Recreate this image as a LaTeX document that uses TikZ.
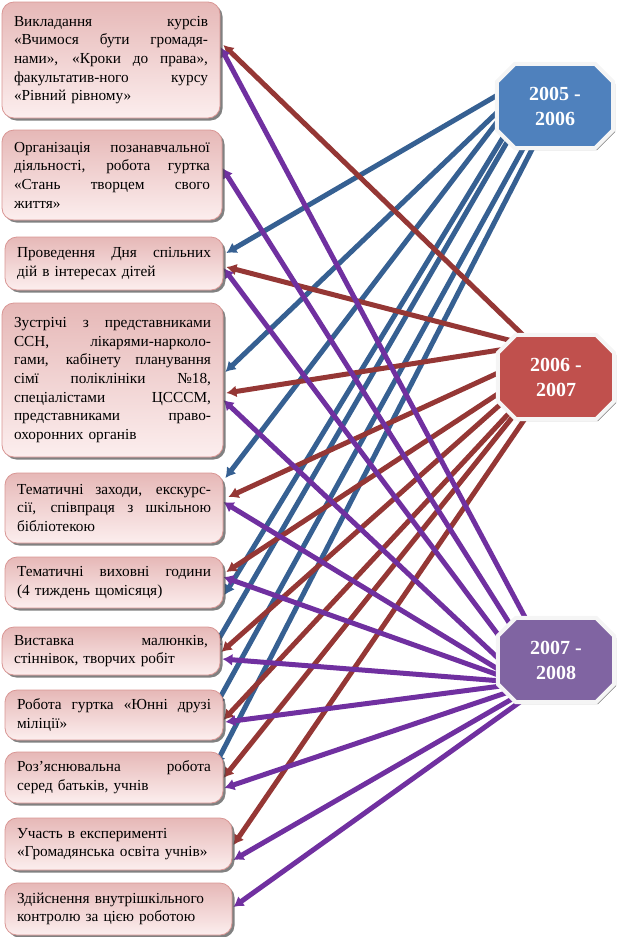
\documentclass[tikz,border=0pt]{standalone}
\usepackage{fontspec}
\setmainfont{Liberation Serif}
\usetikzlibrary{arrows.meta,shapes.geometric,shadows,backgrounds}
\definecolor{boxtop}{RGB}{230,184,183}
\definecolor{boxbot}{RGB}{252,238,238}
\definecolor{boxline}{RGB}{217,150,148}
\definecolor{yblue}{RGB}{79,129,189}
\definecolor{yred}{RGB}{192,80,77}
\definecolor{yviolet}{RGB}{128,100,162}
\definecolor{lblue}{RGB}{54,96,146}
\definecolor{lred}{RGB}{149,55,53}
\definecolor{lviolet}{RGB}{112,48,160}
\newcommand{\actw}{194pt}
\newcommand{\jline}[1]{\hbox to\actw{\spaceskip=.25em plus 1fil\relax#1}}
\newcommand{\eline}[1]{\hbox to\actw{#1\hfil}}
\tikzset{
  actbox/.style={rounded corners=12pt, draw=boxline, line width=0.8pt,
    top color=boxtop, bottom color=boxbot,
    drop shadow={shadow xshift=2.5pt,shadow yshift=-2.5pt,fill=black!70,opacity=0.7},
    inner xsep=12pt, inner ysep=0pt, font=\fontsize{15.3}{18.7}\selectfont,
    text width=#1, execute at begin node={\renewcommand{\actw}{#1}}},
  yearbox/.style={ellipse, minimum width=116pt, minimum height=84pt,
    inner sep=0pt, text=white, align=center,
    font=\bfseries\fontsize{20}{25}\selectfont},
  octrim/.style={draw=gray!8, line width=4pt,
    drop shadow={shadow xshift=2pt,shadow yshift=-2pt,fill=gray,opacity=1}},
  link/.style={line width=5pt, -{Latex[length=10pt,width=12pt]}},
}
\begin{document}
\begin{tikzpicture}[x=1pt,y=-1pt]
\useasboundingbox (0,0) rectangle (620,937);
% activities
\node[actbox=194pt, minimum height=116pt] (A) at (111,60) {%
  \jline{Викладання курсів}
  \jline{«Вчимося бути громадя-}
  \jline{нами», «Кроки до права»,}
  \jline{факультатив-ного курсу}
  \eline{«Рівний рівному»}};
\node[actbox=196pt, minimum height=90pt] (B) at (112,175) {%
  \jline{Організація позанавчальної}
  \jline{діяльності, робота гуртка}
  \jline{«Стань творцем свого}
  \eline{життя»}};
\node[actbox=194pt, minimum height=53pt] (C) at (114,263.5) {%
  \jline{Проведення Дня спільних}
  \eline{дій в інтересах дітей}};
\node[actbox=197pt, minimum height=154pt] (D) at (112.5,380) {%
  \jline{Зустрічі з представниками}
  \jline{ССН, лікарями-нарколо-}
  \jline{гами, кабінету планування}
  \jline{сімї поліклініки №18,}
  \jline{спеціалістами ЦСССМ,}
  \jline{представниками право-}
  \eline{охоронних органів}};
\node[actbox=194pt, minimum height=70pt] (E) at (114,508) {%
  \jline{Тематичні заходи, екскурс-}
  \jline{сії, співпраця з шкільною}
  \eline{бібліотекою}};
\node[actbox=194pt, minimum height=51pt] (F) at (114,582.5) {%
  \jline{Тематичні виховні години}
  \eline{(4 тиждень щомісяця)}};
\node[actbox=194pt, minimum height=48pt] (G) at (111,651) {%
  \jline{Виставка малюнків,}
  \eline{стіннівок, творчих робіт}};
\node[actbox=194pt, minimum height=50pt] (H) at (114,715) {%
  \jline{Робота гуртка «Юнні друзі}
  \eline{міліції»}};
\node[actbox=194pt, minimum height=51pt] (I) at (114,777.5) {%
  \jline{Роз’яснювальна робота}
  \eline{серед батьків, учнів}};
\node[actbox=203pt, minimum height=52pt] (J) at (118.5,844) {%
  \eline{Участь в експерименті}
  \eline{«Громадянська освіта учнів»}};
\node[actbox=203pt, minimum height=52pt] (K) at (118.5,909) {%
  \eline{Здійснення внутрішкільного}
  \eline{контролю за цією роботою}};
% years
\node[yearbox] (y05) at (555,106) {2005 -\\2006};
\node[yearbox] (y06) at (556,377) {2006 -\\2007};
\node[yearbox] (y07) at (556,660) {2007 -\\2008};
\begin{scope}[on background layer]
% 2005-2006
\draw[link,lblue] (y05.168) -- ([xshift=3pt,yshift=10.5pt]C.east);
\draw[link,lblue] (y05.186) -- ([xshift=2pt,yshift=8pt]D.east);
\draw[link,lblue] (y05.193) -- ([xshift=2pt,yshift=30pt]E.east);
\draw[link,lblue] (y05.207) -- ([xshift=1pt,yshift=-12.5pt]F.east);
\draw[link,lblue] (y05.213) -- ([xshift=-8pt,yshift=1pt]G.east);
\draw[link,lblue] (y05.232) -- ([xshift=-8pt,yshift=9pt]H.east);
\draw[link,lblue] (y05.242) -- ([xshift=-8pt,yshift=12.5pt]I.east);
% 2006-2007
\draw[link,lred] (y06.127) -- ([xshift=3pt,yshift=15pt]A.east);
\draw[link,lred] (y06.136) -- ([xshift=3pt,yshift=-3.5pt]C.east);
\draw[link,lred] (y06.145) -- ([xshift=3pt,yshift=-13pt]D.east);
\draw[link,lred] (y06.176) -- ([xshift=5pt,yshift=11pt]E.east);
\draw[link,lred] (y06.195) -- ([xshift=3pt,yshift=10.5pt]F.east);
\draw[link,lred] (y06.204) -- ([xshift=1pt,yshift=-1pt]G.east);
\draw[link,lred] (y06.216) -- ([xshift=0pt,yshift=-5pt]H.east);
\draw[link,lred] (y06.221) -- ([xshift=0pt,yshift=-0.5pt]I.east);
\draw[link,lred] (y06.233) -- ([xshift=1pt,yshift=-1pt]J.east);
% 2007-2008
\draw[link,lviolet] (y07.127) -- ([xshift=0pt,yshift=13pt]A.east);
\draw[link,lviolet] (y07.145) -- ([xshift=0pt,yshift=7pt]B.east);
\draw[link,lviolet] (y07.161) -- ([xshift=0pt,yshift=-4.5pt]C.east);
\draw[link,lviolet] (y07.178) -- ([xshift=0pt,yshift=-20pt]D.east);
\draw[link,lviolet] (y07.190) -- ([xshift=0pt,yshift=6pt]E.east);
\draw[link,lviolet] (y07.197) -- ([xshift=0pt,yshift=5.5pt]F.east);
\draw[link,lviolet] (y07.203) -- ([xshift=2pt,yshift=-8pt]G.east);
\draw[link,lviolet] (y07.208) -- ([xshift=2pt,yshift=-7pt]H.east);
\draw[link,lviolet] (y07.216) -- ([xshift=1pt,yshift=-10.5pt]I.east);
\draw[link,lviolet] (y07.224) -- ([xshift=1pt,yshift=-16pt]J.east);
\draw[link,lviolet] (y07.232) -- ([xshift=1pt,yshift=2pt]K.east);
% octagons
\foreach \yr/\col in {y05/yblue,y06/yred,y07/yviolet}
  \filldraw[octrim, fill=\col] ([xshift=-40pt]\yr.north) -- ([xshift=40pt]\yr.north)
    -- ([yshift=24pt]\yr.east) -- ([yshift=-24pt]\yr.east)
    -- ([xshift=40pt]\yr.south) -- ([xshift=-40pt]\yr.south)
    -- ([yshift=-24pt]\yr.west) -- ([yshift=24pt]\yr.west) -- cycle;
\end{scope}
\end{tikzpicture}
\end{document}
